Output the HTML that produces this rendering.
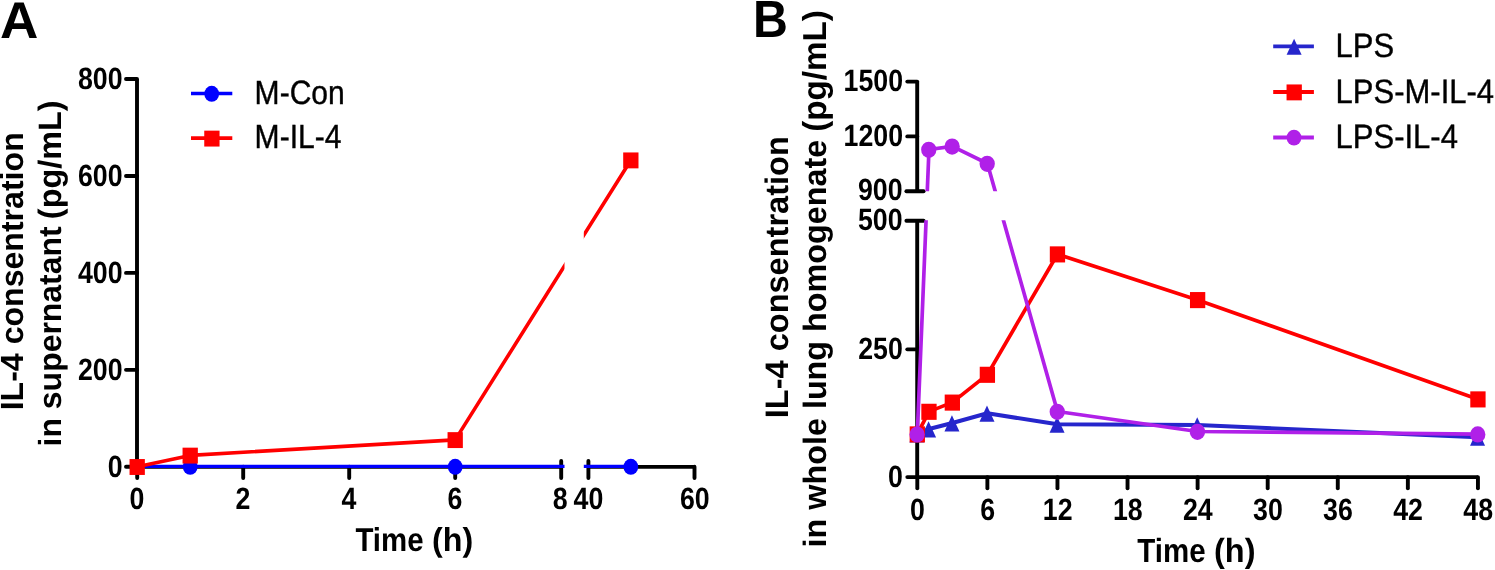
<!DOCTYPE html>
<html><head><meta charset="utf-8"><title>Figure</title>
<style>html,body{margin:0;padding:0;background:#fff}svg{display:block;will-change:transform}text{font-family:"Liberation Sans",sans-serif;text-rendering:geometricPrecision}</style></head>
<body>
<svg width="1495" height="570" viewBox="0 0 1495 570">
<rect width="1495" height="570" fill="#fff"/>
<text transform="translate(0,37.5) scale(1.027,1)" font-size="51.7" font-weight="bold" text-anchor="start" fill="#000">A</text>
<defs><clipPath id="ca"><rect x="0" y="0" width="564.5" height="570"/><rect x="583.8" y="0" width="400" height="570"/></clipPath><clipPath id="cb"><rect x="740" y="0" width="760" height="191.3"/><rect x="740" y="220.3" width="760" height="360"/></clipPath></defs>
<line x1="137.00" y1="79.00" x2="137.00" y2="468.75" stroke="#000" stroke-width="3.9" stroke-linecap="butt"/>
<line x1="126.00" y1="466.80" x2="137.00" y2="466.80" stroke="#000" stroke-width="3.9" stroke-linecap="round"/>
<text transform="translate(122.6,476.7) scale(0.868,1)" font-size="30.8" font-weight="bold" text-anchor="end" fill="#000">0</text>
<line x1="126.00" y1="369.85" x2="137.00" y2="369.85" stroke="#000" stroke-width="3.9" stroke-linecap="round"/>
<text transform="translate(122.6,379.75) scale(0.868,1)" font-size="30.8" font-weight="bold" text-anchor="end" fill="#000">200</text>
<line x1="126.00" y1="272.90" x2="137.00" y2="272.90" stroke="#000" stroke-width="3.9" stroke-linecap="round"/>
<text transform="translate(122.6,282.79999999999995) scale(0.868,1)" font-size="30.8" font-weight="bold" text-anchor="end" fill="#000">400</text>
<line x1="126.00" y1="175.95" x2="137.00" y2="175.95" stroke="#000" stroke-width="3.9" stroke-linecap="round"/>
<text transform="translate(122.6,185.85) scale(0.868,1)" font-size="30.8" font-weight="bold" text-anchor="end" fill="#000">600</text>
<line x1="126.00" y1="79.00" x2="137.00" y2="79.00" stroke="#000" stroke-width="3.9" stroke-linecap="round"/>
<text transform="translate(122.6,88.9) scale(0.868,1)" font-size="30.8" font-weight="bold" text-anchor="end" fill="#000">800</text>
<line x1="137.00" y1="466.90" x2="561.20" y2="466.90" stroke="#000" stroke-width="3.9" stroke-linecap="butt"/>
<line x1="588.40" y1="466.90" x2="694.50" y2="466.90" stroke="#000" stroke-width="3.9" stroke-linecap="butt"/>
<line x1="137.20" y1="466.80" x2="137.20" y2="478.00" stroke="#000" stroke-width="3.9" stroke-linecap="round"/>
<text transform="translate(136.89999999999998,509.4) scale(0.868,1)" font-size="30.8" font-weight="bold" text-anchor="middle" fill="#000">0</text>
<line x1="243.20" y1="466.80" x2="243.20" y2="478.00" stroke="#000" stroke-width="3.9" stroke-linecap="round"/>
<text transform="translate(242.89999999999998,509.4) scale(0.868,1)" font-size="30.8" font-weight="bold" text-anchor="middle" fill="#000">2</text>
<line x1="349.20" y1="466.80" x2="349.20" y2="478.00" stroke="#000" stroke-width="3.9" stroke-linecap="round"/>
<text transform="translate(348.9,509.4) scale(0.868,1)" font-size="30.8" font-weight="bold" text-anchor="middle" fill="#000">4</text>
<line x1="455.20" y1="466.80" x2="455.20" y2="478.00" stroke="#000" stroke-width="3.9" stroke-linecap="round"/>
<text transform="translate(454.9,509.4) scale(0.868,1)" font-size="30.8" font-weight="bold" text-anchor="middle" fill="#000">6</text>
<line x1="561.20" y1="461.00" x2="561.20" y2="478.00" stroke="#000" stroke-width="3.9" stroke-linecap="round"/>
<text transform="translate(560.3000000000001,509.4) scale(0.868,1)" font-size="30.8" font-weight="bold" text-anchor="middle" fill="#000">8</text>
<line x1="588.40" y1="461.00" x2="588.40" y2="478.00" stroke="#000" stroke-width="3.9" stroke-linecap="round"/>
<text transform="translate(588.4,509.4) scale(0.868,1)" font-size="30.8" font-weight="bold" text-anchor="middle" fill="#000">40</text>
<line x1="694.50" y1="466.80" x2="694.50" y2="478.00" stroke="#000" stroke-width="3.9" stroke-linecap="round"/>
<text transform="translate(694.8,509.4) scale(0.868,1)" font-size="30.8" font-weight="bold" text-anchor="middle" fill="#000">60</text>
<text transform="translate(355.4,551.0) scale(0.892,1)" font-size="33.0" font-weight="bold" text-anchor="start" fill="#000">Time</text>
<text transform="translate(473.3,551.0) scale(0.978,1)" font-size="33.0" font-weight="bold" text-anchor="end" fill="#000">(h)</text>
<text transform="translate(23.2,271.3) rotate(-90)" font-size="32.1" font-weight="bold" text-anchor="middle" fill="#000">IL-4 consentration</text>
<text transform="translate(61.0,446.4) rotate(-90)" font-size="31.95" font-weight="bold" text-anchor="start" fill="#000">in supernatant</text>
<text transform="translate(61.0,100.4) rotate(-90)" font-size="32.4" font-weight="bold" text-anchor="end" fill="#000">(pg/mL)</text>
<polyline points="137.20,466.35 190.20,466.35 455.20,466.35 630.84,466.35" fill="none" stroke="#0000ff" stroke-width="3.1" stroke-linejoin="round" clip-path="url(#ca)"/>
<polyline points="137.20,466.80 190.20,455.41 455.20,439.90 630.84,160.20" fill="none" stroke="#ff0000" stroke-width="3.6" stroke-linejoin="round" clip-path="url(#ca)"/>
<ellipse cx="190.20" cy="466.80" rx="7.4" ry="7.95" fill="#0000ff"/>
<ellipse cx="455.20" cy="466.80" rx="7.4" ry="7.95" fill="#0000ff"/>
<ellipse cx="630.84" cy="466.80" rx="7.4" ry="7.95" fill="#0000ff"/>
<rect x="129.55" y="459.05" width="15.3" height="15.9" fill="#ff0000"/>
<rect x="182.55" y="447.66" width="15.3" height="15.9" fill="#ff0000"/>
<rect x="447.55" y="432.15" width="15.3" height="15.9" fill="#ff0000"/>
<rect x="623.19" y="152.45" width="15.3" height="15.9" fill="#ff0000"/>
<line x1="191.00" y1="93.50" x2="232.30" y2="93.50" stroke="#0000ff" stroke-width="3.7" stroke-linecap="butt"/>
<ellipse cx="211.70" cy="93.80" rx="7.4" ry="7.95" fill="#0000ff"/>
<text transform="translate(254.6,103.7) scale(0.895,1)" font-size="33.6" font-weight="normal" text-anchor="start" fill="#000" stroke="#000" stroke-width="0.4">M-Con</text>
<line x1="191.00" y1="138.20" x2="232.30" y2="138.20" stroke="#ff0000" stroke-width="3.7" stroke-linecap="butt"/>
<rect x="204.25" y="130.65" width="15.3" height="15.9" fill="#ff0000"/>
<text transform="translate(254.6,148.4) scale(0.895,1)" font-size="33.6" font-weight="normal" text-anchor="start" fill="#000" stroke="#000" stroke-width="0.4">M-IL-4</text>
<text transform="translate(752.9,36.9) scale(0.9255,1)" font-size="52.2" font-weight="bold" text-anchor="start" fill="#000">B</text>
<line x1="917.20" y1="81.60" x2="917.20" y2="191.20" stroke="#000" stroke-width="3.9" stroke-linecap="butt"/>
<line x1="917.20" y1="220.80" x2="917.20" y2="479.05" stroke="#000" stroke-width="3.9" stroke-linecap="butt"/>
<line x1="907.30" y1="81.60" x2="917.20" y2="81.60" stroke="#000" stroke-width="3.9" stroke-linecap="round"/>
<text transform="translate(903.0,91.3) scale(0.868,1)" font-size="30.8" font-weight="bold" text-anchor="end" fill="#000">1500</text>
<line x1="907.30" y1="136.40" x2="917.20" y2="136.40" stroke="#000" stroke-width="3.9" stroke-linecap="round"/>
<text transform="translate(903.0,146.1) scale(0.868,1)" font-size="30.8" font-weight="bold" text-anchor="end" fill="#000">1200</text>
<line x1="907.30" y1="349.35" x2="917.20" y2="349.35" stroke="#000" stroke-width="3.9" stroke-linecap="round"/>
<text transform="translate(902.8,358.6) scale(0.868,1)" font-size="30.8" font-weight="bold" text-anchor="end" fill="#000">250</text>
<line x1="907.30" y1="477.10" x2="917.20" y2="477.10" stroke="#000" stroke-width="3.9" stroke-linecap="round"/>
<text transform="translate(903.0,486.90000000000003) scale(0.868,1)" font-size="30.8" font-weight="bold" text-anchor="end" fill="#000">0</text>
<line x1="906.40" y1="191.20" x2="923.60" y2="191.20" stroke="#000" stroke-width="3.9" stroke-linecap="round"/>
<text transform="translate(902.5,200.29999999999998) scale(0.868,1)" font-size="30.8" font-weight="bold" text-anchor="end" fill="#000">900</text>
<line x1="906.40" y1="220.80" x2="923.60" y2="220.80" stroke="#000" stroke-width="3.9" stroke-linecap="round"/>
<text transform="translate(902.5,229.9) scale(0.868,1)" font-size="30.8" font-weight="bold" text-anchor="end" fill="#000">500</text>
<line x1="917.20" y1="477.10" x2="1477.94" y2="477.10" stroke="#000" stroke-width="3.9" stroke-linecap="butt"/>
<line x1="917.30" y1="477.10" x2="917.30" y2="488.30" stroke="#000" stroke-width="3.9" stroke-linecap="round"/>
<text transform="translate(917.5,519.7) scale(0.868,1)" font-size="30.8" font-weight="bold" text-anchor="middle" fill="#000">0</text>
<line x1="987.38" y1="477.10" x2="987.38" y2="488.30" stroke="#000" stroke-width="3.9" stroke-linecap="round"/>
<text transform="translate(987.58,519.7) scale(0.868,1)" font-size="30.8" font-weight="bold" text-anchor="middle" fill="#000">6</text>
<line x1="1057.46" y1="477.10" x2="1057.46" y2="488.30" stroke="#000" stroke-width="3.9" stroke-linecap="round"/>
<text transform="translate(1057.66,519.7) scale(0.868,1)" font-size="30.8" font-weight="bold" text-anchor="middle" fill="#000">12</text>
<line x1="1127.54" y1="477.10" x2="1127.54" y2="488.30" stroke="#000" stroke-width="3.9" stroke-linecap="round"/>
<text transform="translate(1127.74,519.7) scale(0.868,1)" font-size="30.8" font-weight="bold" text-anchor="middle" fill="#000">18</text>
<line x1="1197.62" y1="477.10" x2="1197.62" y2="488.30" stroke="#000" stroke-width="3.9" stroke-linecap="round"/>
<text transform="translate(1197.82,519.7) scale(0.868,1)" font-size="30.8" font-weight="bold" text-anchor="middle" fill="#000">24</text>
<line x1="1267.70" y1="477.10" x2="1267.70" y2="488.30" stroke="#000" stroke-width="3.9" stroke-linecap="round"/>
<text transform="translate(1267.8999999999999,519.7) scale(0.868,1)" font-size="30.8" font-weight="bold" text-anchor="middle" fill="#000">30</text>
<line x1="1337.78" y1="477.10" x2="1337.78" y2="488.30" stroke="#000" stroke-width="3.9" stroke-linecap="round"/>
<text transform="translate(1337.98,519.7) scale(0.868,1)" font-size="30.8" font-weight="bold" text-anchor="middle" fill="#000">36</text>
<line x1="1407.86" y1="477.10" x2="1407.86" y2="488.30" stroke="#000" stroke-width="3.9" stroke-linecap="round"/>
<text transform="translate(1408.06,519.7) scale(0.868,1)" font-size="30.8" font-weight="bold" text-anchor="middle" fill="#000">42</text>
<line x1="1477.94" y1="477.10" x2="1477.94" y2="488.30" stroke="#000" stroke-width="3.9" stroke-linecap="round"/>
<text transform="translate(1478.14,519.7) scale(0.868,1)" font-size="30.8" font-weight="bold" text-anchor="middle" fill="#000">48</text>
<text transform="translate(1137.3,562.4) scale(0.8777,1)" font-size="33.6" font-weight="bold" text-anchor="start" fill="#000">Time</text>
<text transform="translate(1255.5,562.4) scale(0.968,1)" font-size="33.6" font-weight="bold" text-anchor="end" fill="#000">(h)</text>
<text transform="translate(788.0,277.2) rotate(-90)" font-size="32.55" font-weight="bold" text-anchor="middle" fill="#000">IL-4 consentration</text>
<text transform="translate(825.5,547.4) rotate(-90)" font-size="32.34" font-weight="bold" text-anchor="start" fill="#000">in whole lung homogenate</text>
<text transform="translate(825.5,10.2) rotate(-90)" font-size="33.2" font-weight="bold" text-anchor="end" fill="#000">(pg/mL)</text>
<polyline points="917.30,434.00 928.98,429.00 952.34,423.00 987.38,413.30 1057.46,424.30 1197.62,425.00 1477.94,437.30" fill="none" stroke="#2626cc" stroke-width="4.0" stroke-linejoin="round"/>
<polygon points="916.90,426.25 924.40,442.45 909.40,442.45" fill="#2626cc"/>
<polygon points="928.58,421.25 936.08,437.45 921.08,437.45" fill="#2626cc"/>
<polygon points="951.94,415.25 959.44,431.45 944.44,431.45" fill="#2626cc"/>
<polygon points="986.98,405.55 994.48,421.75 979.48,421.75" fill="#2626cc"/>
<polygon points="1057.06,416.55 1064.56,432.75 1049.56,432.75" fill="#2626cc"/>
<polygon points="1197.22,417.25 1204.72,433.45 1189.72,433.45" fill="#2626cc"/>
<polygon points="1477.54,429.55 1485.04,445.75 1470.04,445.75" fill="#2626cc"/>
<polyline points="917.30,434.20 928.98,411.60 952.34,402.40 987.38,374.60 1057.46,254.20 1197.62,299.90 1477.94,399.20" fill="none" stroke="#ff0000" stroke-width="3.7" stroke-linejoin="round"/>
<rect x="909.65" y="426.35" width="15.3" height="16.1" fill="#ff0000"/>
<rect x="921.33" y="403.75" width="15.3" height="16.1" fill="#ff0000"/>
<rect x="944.69" y="394.55" width="15.3" height="16.1" fill="#ff0000"/>
<rect x="979.73" y="366.75" width="15.3" height="16.1" fill="#ff0000"/>
<rect x="1049.81" y="246.35" width="15.3" height="16.1" fill="#ff0000"/>
<rect x="1189.97" y="292.05" width="15.3" height="16.1" fill="#ff0000"/>
<rect x="1470.29" y="391.35" width="15.3" height="16.1" fill="#ff0000"/>
<polyline points="917.30,434.20 928.98,149.50 952.34,146.30 987.38,163.50 1057.46,411.50 1197.62,431.50 1477.94,434.10" fill="none" stroke="#b020e8" stroke-width="3.7" stroke-linejoin="round" clip-path="url(#cb)"/>
<ellipse cx="917.10" cy="434.50" rx="7.65" ry="8.1" fill="#b020e8"/>
<ellipse cx="928.78" cy="149.80" rx="7.65" ry="8.1" fill="#b020e8"/>
<ellipse cx="952.14" cy="146.60" rx="7.65" ry="8.1" fill="#b020e8"/>
<ellipse cx="987.18" cy="163.80" rx="7.65" ry="8.1" fill="#b020e8"/>
<ellipse cx="1057.26" cy="411.80" rx="7.65" ry="8.1" fill="#b020e8"/>
<ellipse cx="1197.42" cy="431.80" rx="7.65" ry="8.1" fill="#b020e8"/>
<ellipse cx="1477.74" cy="434.40" rx="7.65" ry="8.1" fill="#b020e8"/>
<line x1="1273.20" y1="46.40" x2="1313.90" y2="46.40" stroke="#2626cc" stroke-width="3.8" stroke-linecap="butt"/>
<polygon points="1294.10,38.65 1301.60,54.85 1286.60,54.85" fill="#2626cc"/>
<text transform="translate(1335.6,56.7) scale(0.917,1)" font-size="33.8" font-weight="normal" text-anchor="start" fill="#000" stroke="#000" stroke-width="0.4">LPS</text>
<line x1="1273.20" y1="92.00" x2="1313.90" y2="92.00" stroke="#ff0000" stroke-width="3.8" stroke-linecap="butt"/>
<rect x="1286.55" y="84.45" width="15.3" height="15.9" fill="#ff0000"/>
<text transform="translate(1335.6,102.7) scale(0.917,1)" font-size="33.8" font-weight="normal" text-anchor="start" fill="#000" stroke="#000" stroke-width="0.4">LPS-M-IL-4</text>
<line x1="1273.20" y1="137.50" x2="1313.90" y2="137.50" stroke="#b020e8" stroke-width="3.8" stroke-linecap="butt"/>
<ellipse cx="1294.00" cy="137.60" rx="7.4" ry="7.95" fill="#b020e8"/>
<text transform="translate(1335.6,148.1) scale(0.917,1)" font-size="33.8" font-weight="normal" text-anchor="start" fill="#000" stroke="#000" stroke-width="0.4">LPS-IL-4</text>
</svg>
</body></html>
